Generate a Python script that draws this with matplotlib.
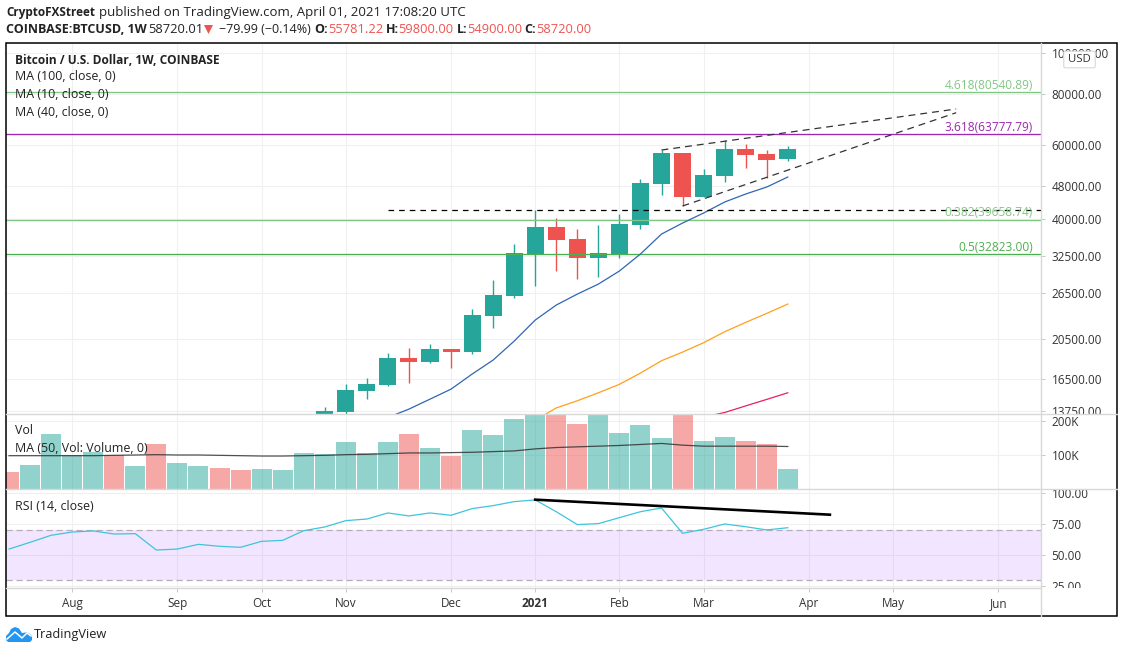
import matplotlib
matplotlib.use('Agg')
import matplotlib.pyplot as plt
from matplotlib.lines import Line2D
from matplotlib.patches import Rectangle, FancyBboxPatch, Polygon, Ellipse
from matplotlib.transforms import Bbox, TransformedBbox
import numpy as np

plt.rcParams['font.family'] = ['Open Sans', 'DejaVu Sans']

# weekly candles, first one sits at bar 15
candle_start = 15
opens = [13200, 13700, 15390, 15910, 18480, 18080, 19430, 19100, 23320, 26050, 32950, 38180, 35730,
         32160, 32950, 38610, 48460, 57540, 45090, 50660, 58820, 57220, 55781.22]
highs = [14090, 16000, 16540, 19000, 19530, 19970, 19430, 24240, 28470, 34750, 41960, 40140, 37770,
         38610, 41040, 49820, 58500, 57540, 52670, 61830, 60480, 58500, 59800]
lows = [13000, 13560, 14720, 15820, 16090, 17970, 17490, 18900, 21820, 25760, 27540, 29930, 28620,
        28950, 32160, 37770, 45590, 42900, 45090, 49000, 52950, 50100, 54900]
closes = [13780, 15480, 16000, 18480, 18080, 19430, 19100, 23450, 26200, 33060, 38180, 35530, 32160,
          33060, 38830, 48730, 57540, 45090, 50930, 58820, 56900, 55350, 58720]

ma10_start = 18
ma10 = [13300, 13930, 14720, 15560, 16910, 18280, 20300, 22810, 24790, 26340, 27840, 29930, 32890,
        36730, 39040, 41270, 43860, 45850, 47660, 50370]
ma40_start = 25
ma40 = [13100, 14020, 14590, 15250, 15980, 17010, 18210, 19100, 20120, 21380, 22520, 23670, 24930]
ma100_start = 33
ma100 = [13330, 13670, 14180, 14700, 15250]

fib_labels = ['4.618(80540.89)', '3.618(63777.79)', '0.382(39658.74)', '0.5(32823.00)']
fib_values = [80540.89, 63777.79, 39658.74, 32823.00]
fib_colors = ['#81c784', '#9c27b0', '#81c784', '#4caf50']

upper_x = [31, 45]
upper_y = [58500, 73420]
lower_x = [32, 45]
lower_y = [42900, 71930]
resist_x = 18
resist_y = 41890

price_ticks = [100000, 80000, 60000, 48000, 40000, 32500, 26500, 20500, 16500, 13750]

volumes = [50, 71, 162, 100, 109, 100, 68, 132, 76, 68, 62, 56, 59, 56, 106, 103, 138, 106, 138, 162,
           120, 97, 173, 159, 206, 225, 225, 191, 225, 165, 188, 150, 225, 141, 153, 141, 132, 59]
vol_up = [0, 1, 1, 1, 1, 0, 1, 0, 1, 1, 0, 0, 1, 1, 1, 1, 1, 1, 1, 0,
          1, 0, 1, 1, 1, 1, 0, 0, 1, 1, 1, 1, 0, 1, 1, 0, 0, 1]
vol_ma = [98, 98, 98, 98, 98, 99, 100, 101, 100, 100, 99, 98, 97, 97, 98, 99, 101, 102, 104, 106,
          106, 107, 108, 110, 112, 118, 122, 124, 126, 128, 131, 134, 129, 126, 126, 126, 126, 125]

rsi = [54.8, 60.2, 65.9, 68.5, 69.4, 66.9, 67.2, 54.0, 54.8, 58.6, 57.0, 56.2, 61.0, 61.8, 69.6, 72.6,
       77.7, 79.0, 83.9, 81.5, 83.9, 82.0, 87.4, 89.8, 93.0, 94.4, 84.9, 74.5, 75.3, 80.1, 84.9, 87.9,
       67.5, 70.7, 75.0, 72.8, 70.2, 72.0]
rsi_trend_x = [25, 39]
rsi_trend_y = [94.6, 82.5]

month_ticks = [3, 8, 12, 16, 21, 25, 29, 33, 38, 42, 47]
month_labels = ['Aug', 'Sep', 'Oct', 'Nov', 'Dec', '2021', 'Feb', 'Mar', 'Apr', 'May', 'Jun']

W, H = 1124, 653
GREEN = '#26a69a'
RED = '#ef5350'
GRID = '#f0f0f0'
TEXT = '#333333'
SIZE = 8.9
TICK = 8.45


def fx(x):
    return x / W


def fy(y):
    return 1 - y / H


def pane(top, bottom):
    ax = fig.add_axes([fx(6.5), fy(bottom), fx(1041 - 6.5), (bottom - top) / H])
    ax.set_xlim(-0.12, 49.03)
    ax.set_facecolor('none')
    for s in ax.spines.values():
        s.set_visible(False)
    ax.yaxis.tick_right()
    ax.set_xticks(month_ticks)
    ax.tick_params(axis='x', length=0, labelbottom=False)
    ax.tick_params(axis='y', length=3, width=0.7, color='#c8c8c8', labelcolor=TEXT, labelsize=TICK, pad=4.5)
    ax.grid(True, color=GRID, lw=0.8)
    ax.set_axisbelow(True)
    return ax


def clip_labels(ax, top, bottom):
    box = TransformedBbox(Bbox([[fx(1041), fy(bottom)], [fx(1117), fy(top)]]), fig.transFigure)
    for lab in ax.get_yticklabels():
        lab.set_clip_box(box)
        lab.set_clip_on(True)


def hdr(x, y, s, color='#222222', weight='normal', size=9.3):
    fig.text(fx(x), fy(y), s, color=color, fontsize=size, fontweight=weight, va='center', ha='left')


fig = plt.figure(figsize=(W / 100, H / 100), dpi=100, facecolor='white')

# price pane
ax1 = pane(43.5, 414)
ax1.set_yscale('log')
ax1.set_ylim(13558, 105530)
ax1.minorticks_off()
ax1.set_yticks(price_ticks)
ax1.set_yticklabels(['%.2f' % t for t in price_ticks])
ax1.tick_params(axis='y', which='minor', length=0, labelright=False)

idx = np.arange(candle_start, candle_start + len(opens))
for i, o, h, l, c in zip(idx, opens, highs, lows, closes):
    col = GREEN if c >= o else RED
    ax1.vlines(i, l, h, color=col, lw=1.0, zorder=3)
    ax1.bar(i, abs(c - o), bottom=min(o, c), width=0.81, color=col, zorder=3)

for v, c in zip(fib_values, fib_colors):
    ax1.axhline(v, color=c, lw=0.95, zorder=4)

ax1.plot(np.arange(ma10_start, ma10_start + len(ma10)), ma10, color='#2f66b5', lw=0.9, zorder=4)
ax1.plot(np.arange(ma40_start, ma40_start + len(ma40)), ma40, color='#ff9f1c', lw=0.9, zorder=4)
ax1.plot(np.arange(ma100_start, ma100_start + len(ma100)), ma100, color='#e91e63', lw=0.9, zorder=4)

ax1.plot(upper_x, upper_y, color='#333333', lw=0.9, dashes=(5.5, 4), zorder=5)
ax1.plot(lower_x, lower_y, color='#333333', lw=0.9, dashes=(5.5, 4), zorder=5)
ax1.plot([resist_x, 49.03], [resist_y, resist_y], color='black', lw=0.9, dashes=(4.5, 4), zorder=5)

for s, v, c in zip(fib_labels, fib_values, fib_colors):
    ax1.annotate(s, (1033 / W, v), xycoords=('figure fraction', 'data'), xytext=(0, 5.2),
                 textcoords='offset points', ha='right', va='center', color=c, fontsize=8.6, zorder=6)

# volume pane
ax2 = pane(414, 489)
ax2.set_ylim(0, 220.6)
ax2.set_yticks([100, 200])
ax2.set_yticklabels(['100K', '200K'])
cols = [GREEN if u else RED for u in vol_up]
ax2.bar(np.arange(len(volumes)), volumes, width=0.95, color=cols, alpha=0.5, zorder=2)
ax2.plot(np.arange(len(vol_ma)), vol_ma, color='#333333', lw=0.9, alpha=0.85, zorder=3)

# rsi pane
ax3 = pane(489, 588)
ax3.set_ylim(23.4, 103.2)
ax3.set_yticks([100, 75, 50, 25])
ax3.set_yticklabels(['100.00', '75.00', '50.00', '25.00'])
ax3.axhspan(30, 70, color='#9b30ff', alpha=0.12, lw=0, zorder=1)
ax3.axhline(70, color='#b5aeb8', lw=0.9, dashes=(5, 3), zorder=2)
ax3.axhline(30, color='#b5aeb8', lw=0.9, dashes=(5, 3), zorder=2)
ax3.plot(np.arange(len(rsi)), rsi, color='#3fc4dc', lw=0.9, zorder=3)
ax3.plot(rsi_trend_x, rsi_trend_y, color='black', lw=1.9, zorder=4)
ax3.set_xticklabels(month_labels)
ax3.tick_params(axis='x', length=3, width=0.7, color='#c8c8c8', labelbottom=True, labelcolor=TEXT,
                labelsize=TICK, pad=3.5)
ax3.get_xticklabels()[5].set_fontweight('bold')

clip_labels(ax1, 43.5, 414)
clip_labels(ax3, 489, 588)

# pane separators, axis line, outer frame
sep = '#d8d8d8'
fig.add_artist(Line2D([fx(6.5), fx(1117)], [fy(414), fy(414)], color=sep, lw=1.0))
fig.add_artist(Line2D([fx(6.5), fx(1117)], [fy(489), fy(489)], color=sep, lw=1.0))
fig.add_artist(Line2D([fx(6.5), fx(1041)], [fy(588), fy(588)], color=sep, lw=1.0))
fig.add_artist(Line2D([fx(1041), fx(1041)], [fy(43), fy(616)], color=sep, lw=1.0))
fig.add_artist(Rectangle((fx(6.5), fy(616)), fx(1110.5), 573 / H, fill=False, ec='black', lw=1.1,
                         transform=fig.transFigure))

# USD button
fig.add_artist(FancyBboxPatch((fx(1066), fy(66.5)), fx(27), 14 / H, boxstyle='round,pad=0.002',
                              fc='white', ec='#d5d8e0', lw=0.8, transform=fig.transFigure))
fig.text(fx(1079.5), fy(59), 'USD', fontsize=8.2, color=TEXT, ha='center', va='center')

# pane legends
fig.text(fx(15), fy(60), 'Bitcoin / U.S. Dollar, 1W, COINBASE', fontsize=8.6, fontweight='bold',
         color='#222222', va='center')
for yy, s in zip([77, 94.5, 112, 431, 448, 506],
                 ['MA (100, close, 0)', 'MA (10, close, 0)', 'MA (40, close, 0)', 'Vol',
                  'MA (50, Vol: Volume, 0)', 'RSI (14, close)']):
    fig.text(fx(15), fy(yy), s, fontsize=SIZE, color='#222222', va='center')

# header rows
hdr(6, 12.5, 'CryptoFXStreet', weight='bold', size=8.5)
hdr(99, 12.5, 'published on TradingView.com, April 01, 2021 17:08:20 UTC', size=9.5)
hdr(6, 29.5, 'COINBASE:BTCUSD, 1W', weight='bold', size=9.0)
hdr(148, 29.5, '58720.01')
fig.add_artist(Polygon([[fx(204), fy(25)], [fx(213), fy(25)], [fx(208.5), fy(34)]], fc=RED, ec='none',
                       transform=fig.transFigure))
hdr(219, 29.5, '\u221279.99 (\u22120.14%)', size=9.0)
for x_l, l, x_v, v in [(314, 'O:', 328, '55781.22'), (386, 'H:', 398, '59800.00'),
                       (457, 'L:', 467, '54900.00'), (524, 'C:', 536, '58720.00')]:
    hdr(x_l, 29.5, l, weight='bold', size=9.0)
    hdr(x_v, 29.5, v, color=RED)

# logo
blue = '#2196f3'
fig.add_artist(Polygon([[fx(8), fy(642)], [fx(30), fy(642)], [fx(32), fy(640)], [fx(32), fy(636)], [fx(29), fy(633)],
                        [fx(26), fy(632.5)], [fx(22), fy(633)], [fx(19), fy(628.5)], [fx(15), fy(627)],
                        [fx(11), fy(629)], [fx(9), fy(633)], [fx(6), fy(636)], [fx(6), fy(640)]],
                       fc=blue, ec='none', transform=fig.transFigure))
fig.add_artist(Line2D([fx(7), fx(15), fx(22), fx(27), fx(31)], [fy(639), fy(632), fy(638), fy(633), fy(636)],
                      color='white', lw=1.1))
fig.text(fx(34), fy(634.5), 'TradingView', fontsize=9.2, color='#222222', va='center')

fig.savefig('out.png', dpi=100)
